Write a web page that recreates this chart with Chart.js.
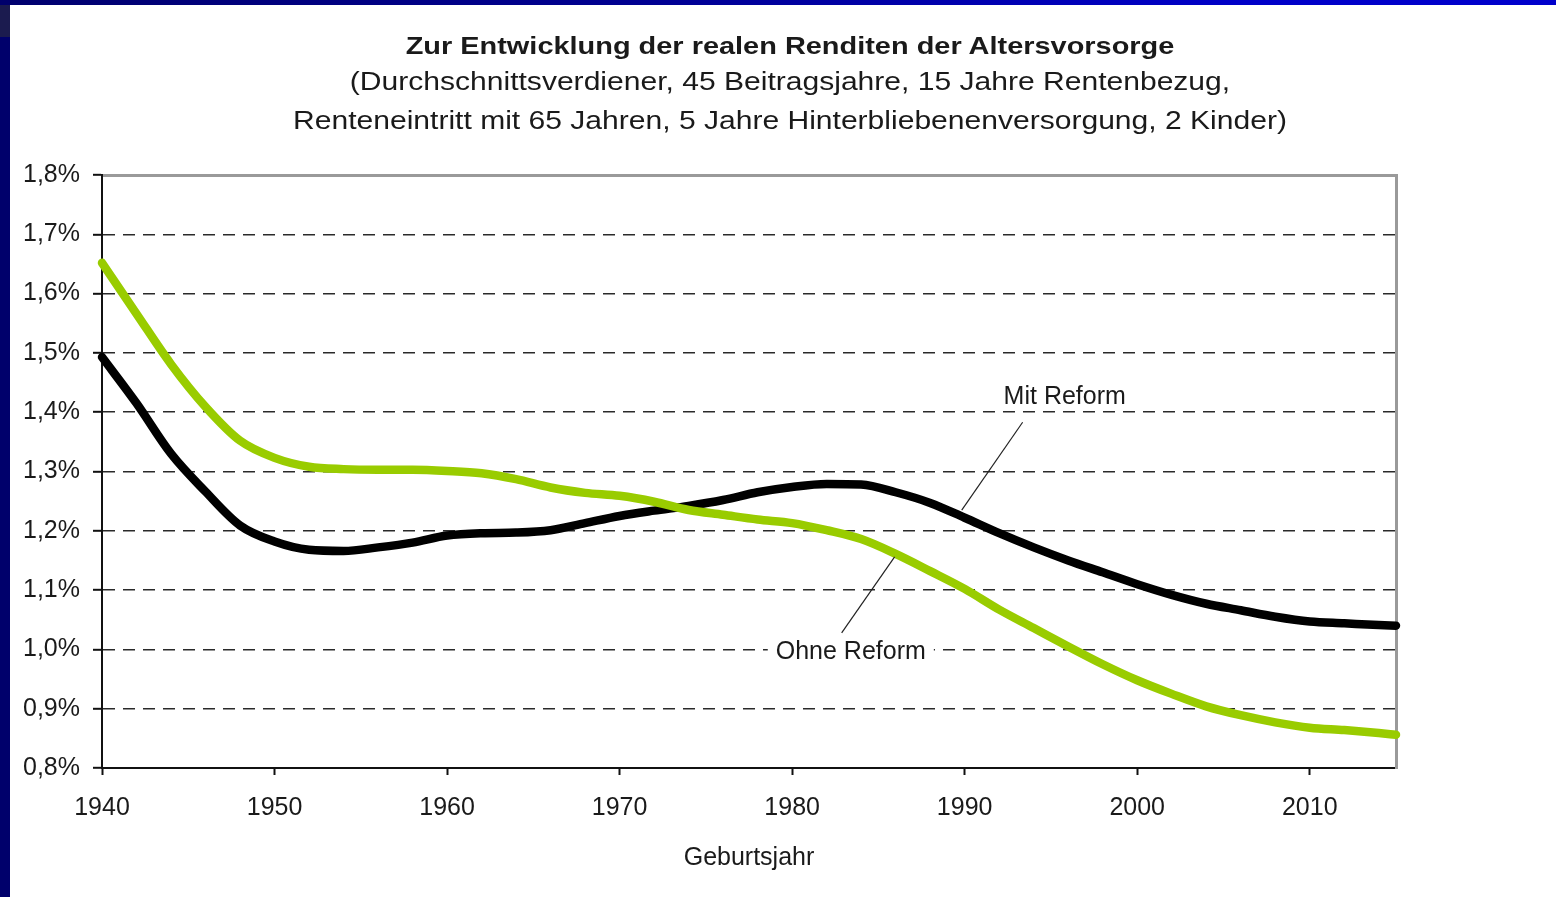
<!DOCTYPE html>
<html>
<head>
<meta charset="utf-8">
<script src="https://cdn.jsdelivr.net/npm/chart.js@4/dist/chart.umd.min.js"></script>
<style>
  html, body { margin: 0; padding: 0; background: #ffffff; }
  body { width: 1556px; height: 897px; position: relative; overflow: hidden; }
  #wrap { position: absolute; left: 0; top: 0; width: 1556px; height: 897px; }
  #topbar { position: absolute; left: 0; top: 0; width: 1556px; height: 5px;
            background: linear-gradient(to right, #00006e 0%, #000090 40%, #0000c8 80%, #0000cc 100%); z-index: 2; }
  #leftbar { position: absolute; left: 0; top: 0; width: 10px; height: 897px; background: #00006b; z-index: 2; }
  #corner { position: absolute; left: 0; top: 5px; width: 10px; height: 32px; background: #1b1b4f; z-index: 3; }
  .ttl { position: absolute; left: 0; width: 1580px; text-align: center; color: #1a1a1a;
         font-family: 'Liberation Sans', Arial, sans-serif; white-space: nowrap; z-index: 1;
         transform-origin: 790px 0; }
  #title { top: 31px; font-size: 24px; line-height: 30px; font-weight: bold; transform: scaleX(1.205); }
  #subtitle { top: 62px; font-size: 25px; line-height: 39px; transform: scaleX(1.202); }
</style>
</head>
<body>
<div id="topbar"></div>
<div id="leftbar"></div>
<div id="corner"></div>
<div id="wrap"><canvas id="c" width="1556" height="897"></canvas></div>
<div id="title" class="ttl"></div>
<div id="subtitle" class="ttl"></div>
<script>
// ---- data ----
const years = [1940,1942,1944,1946,1948,1950,1952,1954,1956,1958,1960,1962,1964,1966,1968,1970,1972,1974,1976,1978,1980,1982,1984,1986,1988,1990,1992,1994,1996,1998,2000,2002,2004,2006,2008,2010,2012,2014,2015];
const mitReform = [1.493,1.415,1.330,1.266,1.209,1.182,1.168,1.166,1.172,1.180,1.192,1.196,1.197,1.201,1.213,1.225,1.234,1.242,1.252,1.265,1.274,1.279,1.278,1.265,1.247,1.222,1.196,1.172,1.150,1.130,1.110,1.092,1.077,1.066,1.055,1.047,1.044,1.041,1.040];
const ohneReform = [1.652,1.566,1.481,1.409,1.352,1.323,1.308,1.304,1.303,1.303,1.301,1.297,1.287,1.273,1.264,1.259,1.249,1.235,1.227,1.219,1.213,1.201,1.186,1.161,1.132,1.102,1.067,1.036,1.005,0.975,0.948,0.925,0.904,0.889,0.877,0.868,0.864,0.859,0.856];
const xTicks = [1940,1950,1960,1970,1980,1990,2000,2010];
const yTicks = [0.8,0.9,1.0,1.1,1.2,1.3,1.4,1.5,1.6,1.7,1.8];
const seriesNames = ['Mit Reform','Ohne Reform'];
const titleText = 'Zur Entwicklung der realen Renditen der Altersvorsorge';
const subtitleLines = ['(Durchschnittsverdiener, 45 Beitragsjahre, 15 Jahre Rentenbezug,',
                       'Renteneintritt mit 65 Jahren, 5 Jahre Hinterbliebenenversorgung, 2 Kinder)'];
const xAxisTitle = 'Geburtsjahr';
// callout labels: text, label anchor (year, value), leader line from / to (year, value)
const calloutText = ['Mit Reform','Ohne Reform'];
const calloutAt = [[1995.8,1.426],[1983.4,0.996]];
const calloutLine = [[[1993.36,1.383],[1989.83,1.235]],[[1982.87,1.028],[1985.94,1.156]]];

const FONT = "'Liberation Sans', Arial, sans-serif";

document.getElementById('title').textContent = titleText;
const sub = document.getElementById('subtitle');
subtitleLines.forEach((l, i) => {
  if (i) sub.appendChild(document.createElement('br'));
  sub.appendChild(document.createTextNode(l));
});

const toXY = (xs, ys) => xs.map((x, i) => ({x: x, y: ys[i]}));

const calloutPlugin = {
  id: 'callouts',
  afterDatasetsDraw(chart) {
    const {ctx, scales: {x, y}} = chart;
    ctx.save();
    ctx.font = '25px ' + FONT;
    ctx.textAlign = 'center';
    ctx.textBaseline = 'middle';
    calloutText.forEach((t, i) => {
      const px = x.getPixelForValue(calloutAt[i][0]);
      const py = y.getPixelForValue(calloutAt[i][1]);
      const w = ctx.measureText(t).width;
      ctx.fillStyle = '#ffffff';
      ctx.fillRect(px - w/2 - 8, py - 13, w + 16, 26);
      ctx.fillStyle = '#1a1a1a';
      ctx.fillText(t, px, py);
      const [a, b] = calloutLine[i];
      ctx.beginPath();
      ctx.strokeStyle = '#222';
      ctx.lineWidth = 1.2;
      ctx.moveTo(x.getPixelForValue(a[0]), y.getPixelForValue(a[1]));
      ctx.lineTo(x.getPixelForValue(b[0]), y.getPixelForValue(b[1]));
      ctx.stroke();
    });
    ctx.restore();
  }
};

new Chart(document.getElementById('c'), {
  type: 'line',
  data: {
    datasets: [
      { label: seriesNames[1], data: toXY(years, ohneReform), borderColor: '#99cc00', backgroundColor: '#99cc00',
        borderWidth: 8.5, pointRadius: 0, cubicInterpolationMode: 'monotone', borderCapStyle: 'round', clip: 8 },
      { label: seriesNames[0], data: toXY(years, mitReform), borderColor: '#000000', backgroundColor: '#000000',
        borderWidth: 8.5, pointRadius: 0, cubicInterpolationMode: 'monotone', borderCapStyle: 'round', clip: 8 }
    ]
  },
  options: {
    responsive: false,
    animation: false,
    devicePixelRatio: 1,
    layout: { padding: { left: 10, right: 160, top: 0, bottom: 16.6 } },
    plugins: {
      legend: { display: false },
      tooltip: { enabled: false },
      title: { display: false },
      subtitle: { display: false }
    },
    scales: {
      x: {
        type: 'linear', position: 'bottom', min: 1940, max: 2015,
        afterFit(s) { s.height = 112.4; },
        afterBuildTicks(s) { s.ticks = xTicks.map(v => ({value: v})); },
        ticks: { color: '#1a1a1a', font: { family: FONT, size: 25 }, padding: 18, maxRotation: 0, autoSkip: false,
                 callback: v => String(v) },
        grid: { drawOnChartArea: false, drawTicks: true, tickLength: 7, tickColor: '#111', tickWidth: 2 },
        border: { display: true, color: '#111', width: 2 },
        title: { display: true, text: xAxisTitle, color: '#1a1a1a', font: { family: FONT, size: 25 }, padding: { top: 0, bottom: 7 } }
      },
      x2: {
        type: 'linear', position: 'top', min: 1940, max: 2015,
        afterFit(s) { s.height = 175; },
        ticks: { display: false },
        grid: { display: false, drawTicks: false },
        border: { display: true, color: '#9a9a9a', width: 3 }
      },
      y: {
        type: 'linear', position: 'left', min: 0.8, max: 1.8,
        afterFit(s) { s.width = 92; },
        afterBuildTicks(s) { s.ticks = yTicks.map(v => ({value: v})); },
        ticks: { color: '#1a1a1a', font: { family: FONT, size: 25 }, padding: 13,
                 callback: v => v.toFixed(1).replace('.', ',') + '%' },
        grid: { drawOnChartArea: true, drawTicks: true, tickLength: 9, tickColor: '#111', tickWidth: 2,
                color: ctx => (ctx.tick && (Math.abs(ctx.tick.value - 1.8) < 1e-6 || Math.abs(ctx.tick.value - 0.8) < 1e-6)) ? 'rgba(0,0,0,0)' : '#2a2a2a',
                lineWidth: 1.6 },
        border: { display: true, color: '#111', width: 2, dash: [12, 8] }
      },
      y2: {
        type: 'linear', position: 'right', min: 0.8, max: 1.8,
        afterFit(s) { s.width = 0; },
        ticks: { display: false },
        grid: { display: false, drawTicks: false },
        border: { display: true, color: '#9a9a9a', width: 3 }
      }
    }
  },
  plugins: [calloutPlugin]
});
</script>
</body>
</html>
